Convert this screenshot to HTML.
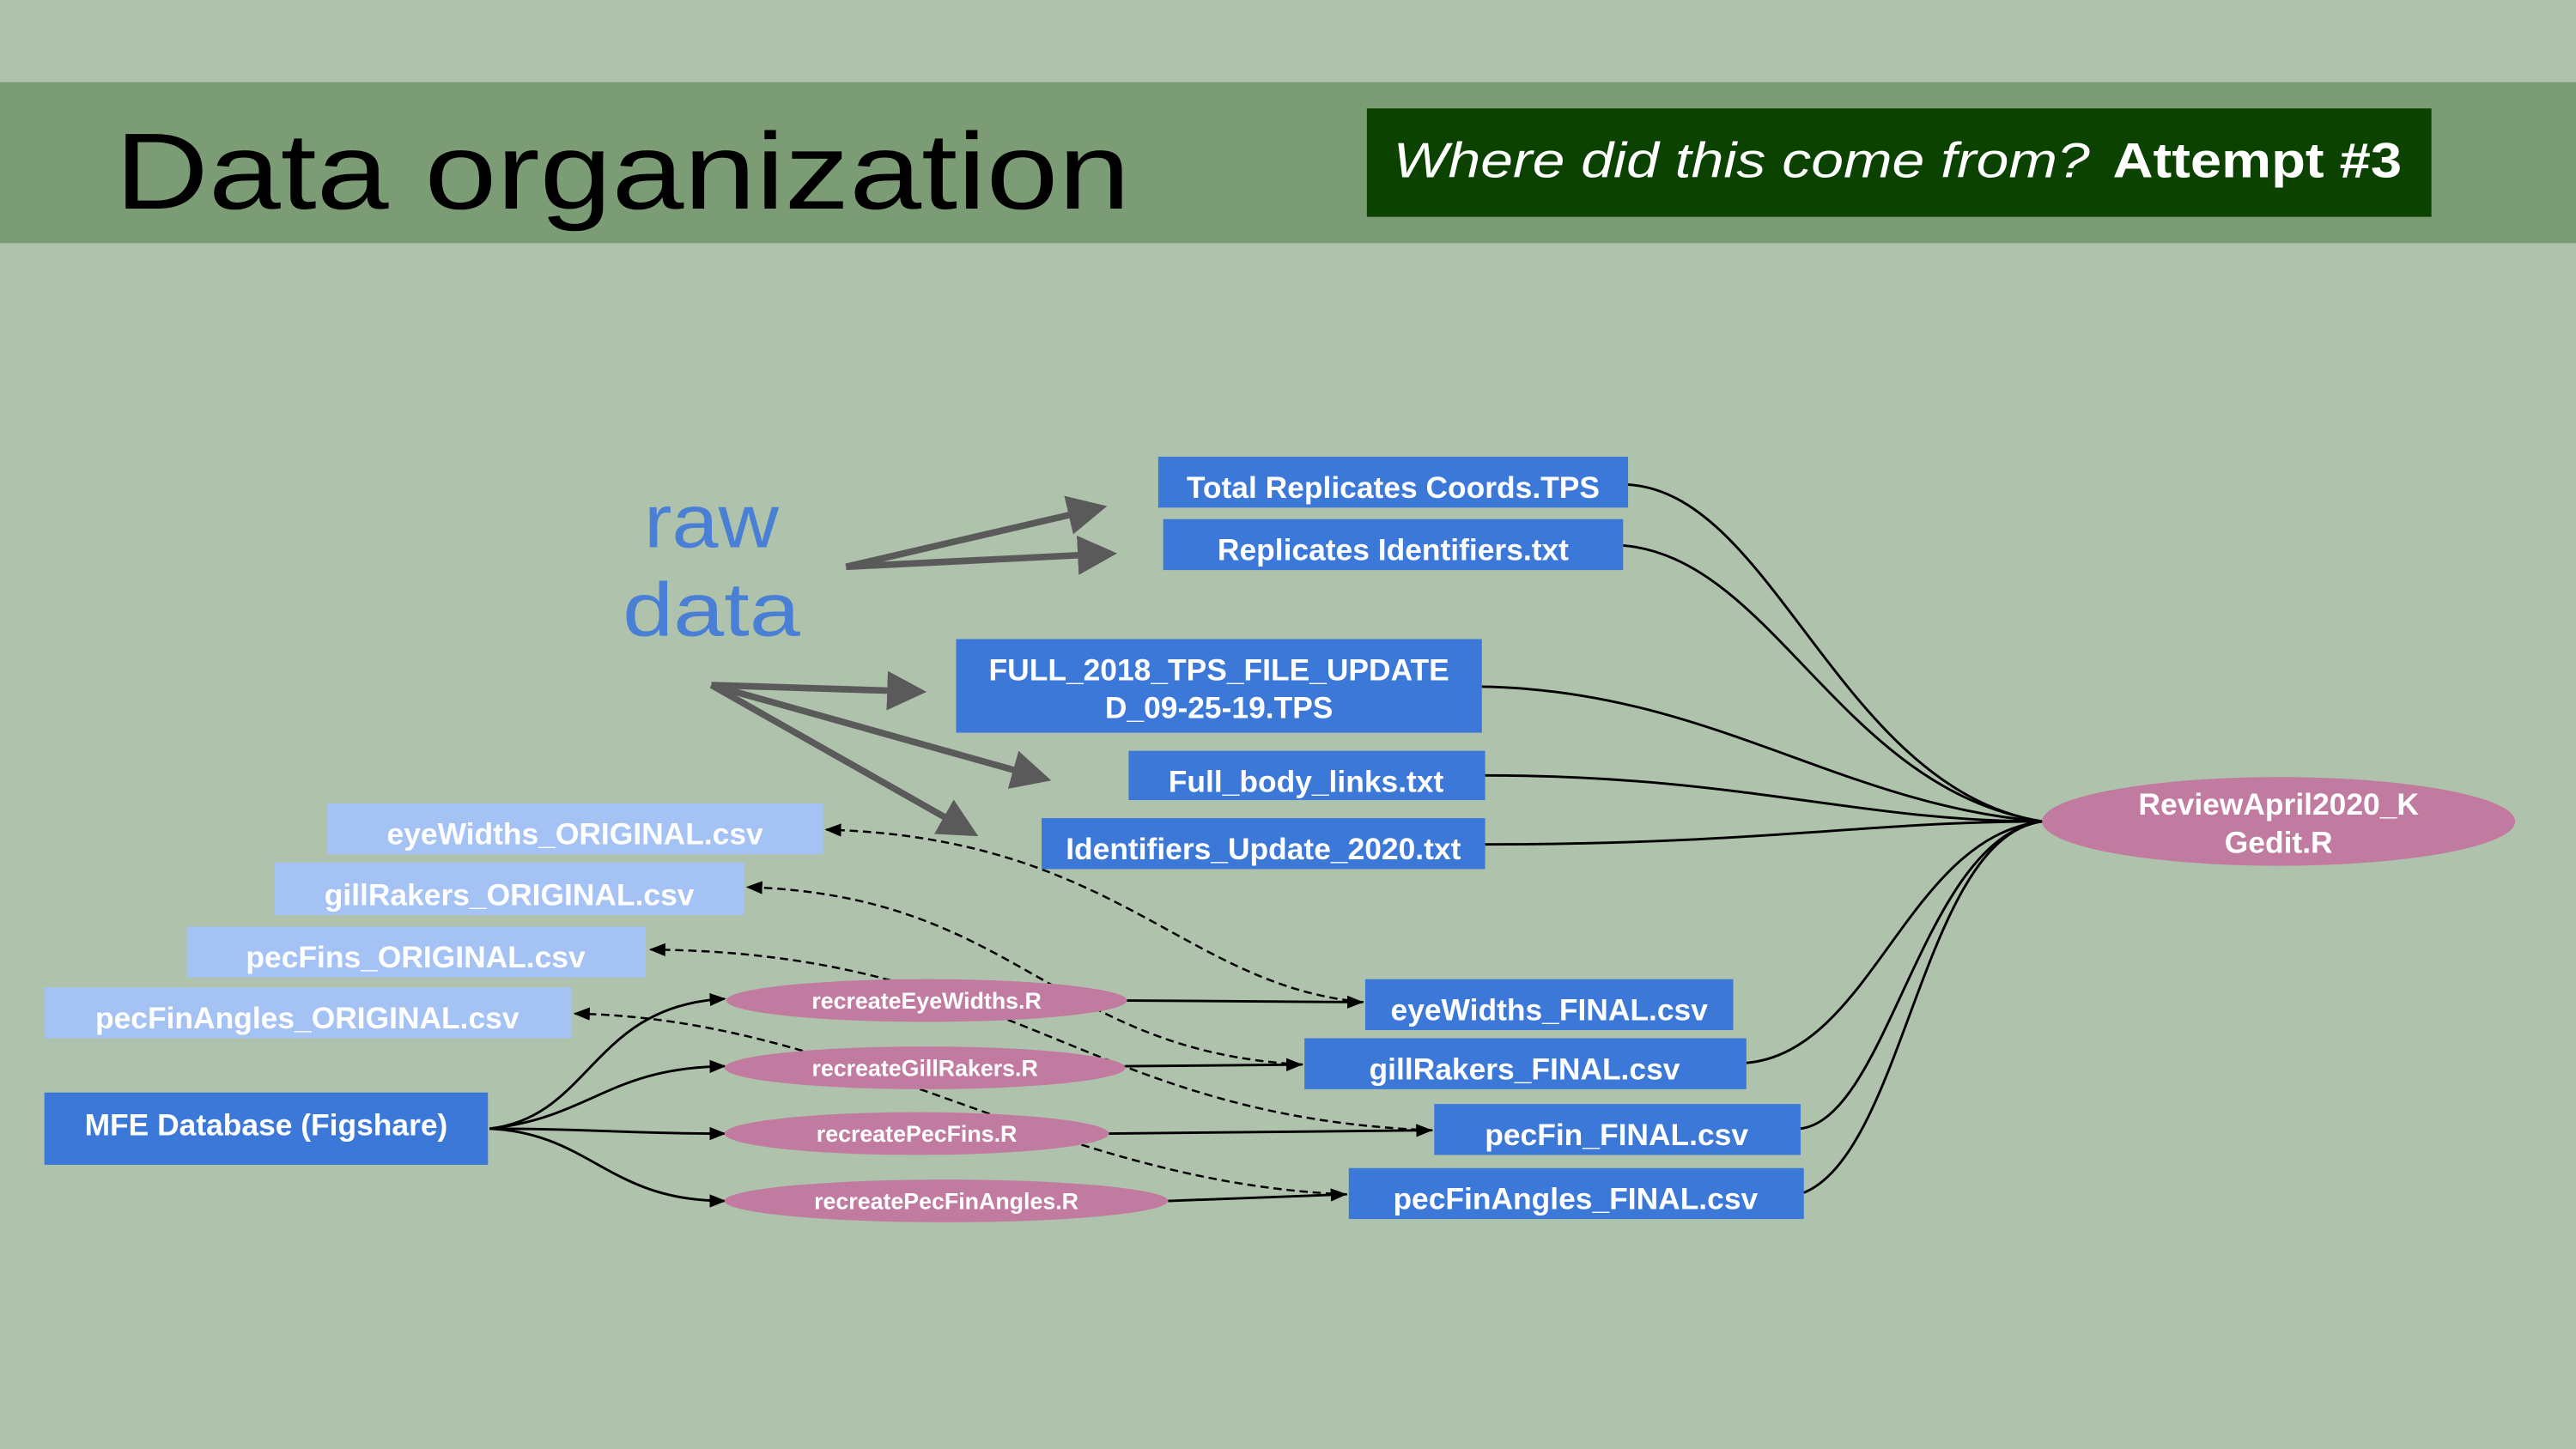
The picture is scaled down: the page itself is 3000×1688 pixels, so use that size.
<!DOCTYPE html>
<html><head><meta charset="utf-8"><style>
html,body{margin:0;padding:0;width:3000px;height:1688px;overflow:hidden;background:#afc2ab}
svg{display:block}
</style></head><body>
<svg width="3000" height="1688" viewBox="0 0 1568 882" preserveAspectRatio="none" xmlns="http://www.w3.org/2000/svg">
<defs>
<marker id="g" markerWidth="6" markerHeight="6" refX="5" refY="3" orient="auto" markerUnits="strokeWidth"><path d="M0,0 L6,3 L0,6 z" fill="#5a5a5a"/></marker>
<marker id="b" markerWidth="10" markerHeight="8" refX="9" refY="4" orient="auto" markerUnits="userSpaceOnUse"><path d="M0,0 L10,4 L0,8 z" fill="#000"/></marker>
</defs>
<rect width="1568" height="882" fill="#afc2ab"/>
<rect y="50" width="1568" height="98" fill="#7c9c76"/>
<text x="70" y="127" font-family="Liberation Sans, sans-serif" font-size="66" fill="#000" textLength="618" lengthAdjust="spacingAndGlyphs">Data organization</text>
<rect x="832" y="66" width="648" height="66" fill="#0b4200"/>
<text x="848" y="108" font-family="Liberation Sans, sans-serif" font-size="30" font-style="italic" fill="#fff" textLength="424" lengthAdjust="spacingAndGlyphs">Where did this come from?</text>
<text x="1286" y="108" font-family="Liberation Sans, sans-serif" font-size="30" font-weight="bold" fill="#fff" textLength="176" lengthAdjust="spacingAndGlyphs">Attempt #3</text>

<text x="433" y="333" text-anchor="middle" font-family="Liberation Sans, sans-serif" font-size="46" fill="#4a7fd6" textLength="82" lengthAdjust="spacingAndGlyphs">raw</text>
<text x="433" y="387" text-anchor="middle" font-family="Liberation Sans, sans-serif" font-size="46" fill="#4a7fd6" textLength="108" lengthAdjust="spacingAndGlyphs">data</text>

<g stroke="#5a5a5a" stroke-width="4" fill="none" marker-end="url(#g)">
<line x1="515" y1="345" x2="670" y2="309"/>
<line x1="515" y1="345" x2="676" y2="337"/>
<line x1="433" y1="417" x2="560" y2="421"/>
<line x1="433" y1="417" x2="636" y2="474"/>
<line x1="433" y1="417" x2="592" y2="507"/>
</g>

<g stroke="#000" stroke-width="1.5" fill="none">
<path d="M991,295 C1080,300 1120,480 1243,500"/>
<path d="M988,332 C1080,340 1120,480 1243,500"/>
<path d="M902,418 C1040,420 1120,490 1243,500"/>
<path d="M904,472 C1060,472 1130,500 1243,500"/>
<path d="M904,514 C1070,514 1140,500 1243,500"/>
<path d="M1063,647 C1140,640 1160,510 1243,500"/>
<path d="M1096,687 C1150,680 1170,510 1243,500"/>
<path d="M1098,726 C1160,700 1170,510 1243,500"/>
</g>
<g stroke="#000" stroke-width="1.3" fill="none" stroke-dasharray="5,3" marker-end="url(#b)">
<path d="M830,610 C720,600 680,510 503,505"/>
<path d="M793,648 C640,640 620,545 455,540"/>
<path d="M872,688 C660,680 620,580 396,578"/>
<path d="M820,727 C640,720 520,620 350,617"/>
</g>
<g stroke="#000" stroke-width="1.5" fill="none" marker-end="url(#b)">
<path d="M298,687 C360,680 360,612 441,608"/>
<path d="M298,687 C360,680 370,650 441,649"/>
<path d="M298,687 C360,687 380,690 441,690"/>
<path d="M298,687 C360,690 370,731 441,731"/>
<line x1="686" y1="609" x2="829" y2="610"/>
<line x1="685" y1="649" x2="792" y2="648"/>
<line x1="675" y1="690" x2="871" y2="688"/>
<line x1="711" y1="731" x2="819" y2="727"/>
</g>

<g font-family="Liberation Sans, sans-serif" font-weight="bold" font-size="18.5" fill="#fff" text-anchor="middle">
<rect x="705" y="278" width="286" height="31" fill="#3c78d8"/><text x="848" y="303">Total Replicates Coords.TPS</text>
<rect x="708" y="316" width="280" height="31" fill="#3c78d8"/><text x="848" y="341">Replicates Identifiers.txt</text>
<rect x="582" y="389" width="320" height="57" fill="#3c78d8"/><text x="742" y="414">FULL_2018_TPS_FILE_UPDATE</text><text x="742" y="437">D_09-25-19.TPS</text>
<rect x="687" y="457" width="217" height="30" fill="#3c78d8"/><text x="795" y="482">Full_body_links.txt</text>
<rect x="634" y="498" width="270" height="31" fill="#3c78d8"/><text x="769" y="523">Identifiers_Update_2020.txt</text>

<rect x="199" y="489" width="302" height="31" fill="#a4c2f4"/><text x="350" y="514">eyeWidths_ORIGINAL.csv</text>
<rect x="167" y="525" width="286" height="32" fill="#a4c2f4"/><text x="310" y="551">gillRakers_ORIGINAL.csv</text>
<rect x="114" y="564" width="279" height="31" fill="#a4c2f4"/><text x="253" y="589">pecFins_ORIGINAL.csv</text>
<rect x="27" y="601" width="321" height="31" fill="#a4c2f4"/><text x="187" y="626">pecFinAngles_ORIGINAL.csv</text>

<rect x="27" y="665" width="270" height="44" fill="#3c78d8"/><text x="162" y="691">MFE Database (Figshare)</text>

<rect x="831" y="596" width="224" height="31" fill="#3c78d8"/><text x="943" y="621">eyeWidths_FINAL.csv</text>
<rect x="794" y="632" width="269" height="31" fill="#3c78d8"/><text x="928" y="657">gillRakers_FINAL.csv</text>
<rect x="873" y="672" width="223" height="31" fill="#3c78d8"/><text x="984" y="697">pecFin_FINAL.csv</text>
<rect x="821" y="711" width="277" height="31" fill="#3c78d8"/><text x="959" y="736">pecFinAngles_FINAL.csv</text>

<ellipse cx="1387" cy="500" rx="144" ry="27" fill="#c27ba0"/>
<text x="1387" y="496">ReviewApril2020_K</text><text x="1387" y="519">Gedit.R</text>
</g>
<g font-family="Liberation Sans, sans-serif" font-weight="bold" font-size="14" fill="#fff" text-anchor="middle">
<ellipse cx="564" cy="609" rx="122" ry="13" fill="#c27ba0"/><text x="564" y="614">recreateEyeWidths.R</text>
<ellipse cx="563" cy="650" rx="122" ry="13" fill="#c27ba0"/><text x="563" y="655">recreateGillRakers.R</text>
<ellipse cx="558" cy="690" rx="117" ry="13" fill="#c27ba0"/><text x="558" y="695">recreatePecFins.R</text>
<ellipse cx="576" cy="731" rx="135" ry="13" fill="#c27ba0"/><text x="576" y="736">recreatePecFinAngles.R</text>
</g>
</svg>
</body></html>
